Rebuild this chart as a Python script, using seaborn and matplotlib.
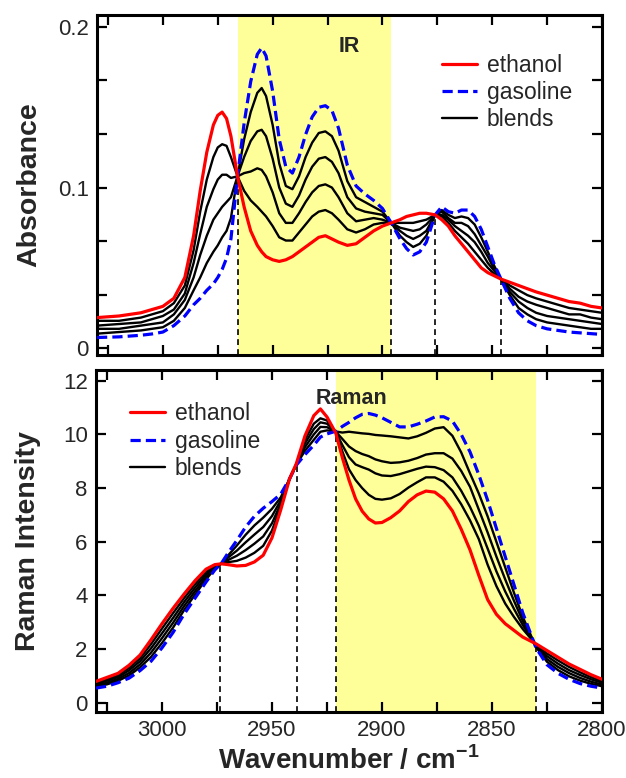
import matplotlib
matplotlib.use("Agg")
import matplotlib.pyplot as plt
import seaborn as sns
from matplotlib.ticker import FixedLocator, FixedFormatter, NullFormatter
from matplotlib.lines import Line2D

# ---------------- IR data ----------------
IR_WN = [3030, 3020, 3010, 3005, 3000, 2995, 2990, 2986, 2983, 2980, 2977, 2975, 2973, 2971, 2969,
         2966, 2963, 2960, 2957, 2955, 2953, 2950, 2947, 2944, 2941, 2938, 2935, 2932, 2929,
         2926, 2923, 2920, 2916, 2912, 2908, 2904, 2900, 2896, 2892, 2889, 2886, 2883, 2880,
         2876, 2873, 2870, 2867, 2864, 2861, 2858, 2855, 2852, 2849, 2846, 2842, 2838, 2834,
         2830, 2825, 2820, 2815, 2810, 2805, 2800]
IR_ETHANOL = [0.019, 0.020, 0.022, 0.024, 0.026, 0.031, 0.044, 0.070, 0.098, 0.122, 0.139, 0.145, 0.147,
              0.143, 0.132, 0.107, 0.088, 0.073, 0.064, 0.060, 0.057, 0.055, 0.054, 0.055, 0.057,
              0.060, 0.063, 0.066, 0.069, 0.070, 0.068, 0.066, 0.064, 0.065, 0.069, 0.073, 0.076,
              0.078, 0.080, 0.082, 0.083, 0.084, 0.084, 0.083, 0.080, 0.076, 0.070, 0.065, 0.060,
              0.055, 0.050, 0.047, 0.045, 0.043, 0.041, 0.039, 0.037, 0.035, 0.033, 0.031, 0.029,
              0.028, 0.026, 0.025]
IR_GASOLINE = [0.0066, 0.007, 0.008, 0.0088, 0.010, 0.014, 0.020, 0.027, 0.031, 0.036, 0.040, 0.044, 0.049,
               0.056, 0.068, 0.107, 0.140, 0.166, 0.183, 0.187, 0.182, 0.160, 0.130, 0.113, 0.109,
               0.119, 0.133, 0.144, 0.150, 0.151, 0.148, 0.137, 0.114, 0.101, 0.096, 0.092, 0.087,
               0.078, 0.068, 0.062, 0.058, 0.060, 0.066, 0.083, 0.088, 0.085, 0.084, 0.086, 0.086,
               0.082, 0.074, 0.063, 0.052, 0.043, 0.031, 0.022, 0.017, 0.014, 0.012, 0.011, 0.010,
               0.0095, 0.009, 0.0085]
IR_BLEND_1 = [0.009, 0.010, 0.011, 0.012, 0.013, 0.017, 0.025, 0.036, 0.044, 0.053, 0.060, 0.064, 0.069,
              0.073, 0.081, 0.107, 0.130, 0.147, 0.159, 0.162, 0.157, 0.139, 0.115, 0.101, 0.099,
              0.107, 0.119, 0.128, 0.134, 0.135, 0.132, 0.123, 0.104, 0.094, 0.091, 0.088, 0.085,
              0.078, 0.070, 0.066, 0.063, 0.065, 0.070, 0.083, 0.086, 0.083, 0.081, 0.082, 0.081,
              0.077, 0.069, 0.060, 0.051, 0.043, 0.033, 0.025, 0.021, 0.018, 0.016, 0.015, 0.014,
              0.013, 0.012, 0.012]
IR_BLEND_2 = [0.012, 0.012, 0.014, 0.015, 0.016, 0.021, 0.030, 0.044, 0.058, 0.070, 0.080, 0.084, 0.088,
              0.091, 0.094, 0.107, 0.119, 0.129, 0.135, 0.136, 0.132, 0.118, 0.100, 0.090, 0.088,
              0.095, 0.105, 0.113, 0.118, 0.119, 0.116, 0.109, 0.094, 0.087, 0.085, 0.084, 0.083,
              0.078, 0.073, 0.070, 0.068, 0.070, 0.073, 0.083, 0.085, 0.081, 0.078, 0.078, 0.076,
              0.071, 0.064, 0.057, 0.049, 0.043, 0.035, 0.029, 0.025, 0.022, 0.020, 0.019, 0.018,
              0.017, 0.016, 0.015]
IR_BLEND_3 = [0.014, 0.015, 0.016, 0.018, 0.020, 0.024, 0.034, 0.053, 0.071, 0.088, 0.099, 0.105, 0.108,
              0.108, 0.106, 0.107, 0.109, 0.110, 0.112, 0.111, 0.107, 0.097, 0.084, 0.078, 0.078,
              0.084, 0.091, 0.097, 0.101, 0.102, 0.100, 0.094, 0.084, 0.079, 0.080, 0.081, 0.080,
              0.078, 0.075, 0.074, 0.073, 0.074, 0.077, 0.083, 0.083, 0.080, 0.076, 0.073, 0.070,
              0.066, 0.060, 0.053, 0.048, 0.043, 0.037, 0.032, 0.029, 0.027, 0.025, 0.023, 0.021,
              0.021, 0.019, 0.018]
IR_BLEND_4 = [0.017, 0.017, 0.019, 0.021, 0.023, 0.028, 0.039, 0.061, 0.085, 0.105, 0.119, 0.125, 0.127,
              0.126, 0.119, 0.107, 0.098, 0.092, 0.088, 0.085, 0.082, 0.076, 0.069, 0.067, 0.067,
              0.072, 0.077, 0.082, 0.085, 0.086, 0.084, 0.080, 0.074, 0.072, 0.074, 0.077, 0.078,
              0.078, 0.078, 0.078, 0.078, 0.079, 0.080, 0.083, 0.082, 0.078, 0.073, 0.069, 0.065,
              0.060, 0.055, 0.050, 0.046, 0.043, 0.039, 0.036, 0.033, 0.031, 0.029, 0.027, 0.025,
              0.024, 0.023, 0.022]
IR_BAND = [2966, 2896]
IR_ISO_WN = [2966, 2896, 2876, 2846]
IR_ISO_VAL = [0.107, 0.078, 0.083, 0.043]

# ---------------- Raman data ----------------
RAMAN_WN = [3030, 3025, 3020, 3015, 3010, 3005, 3000, 2995, 2990, 2985, 2980, 2976, 2973, 2970,
            2966, 2962, 2958, 2954, 2950, 2946, 2942, 2939, 2935, 2931, 2928, 2925, 2921, 2918,
            2915, 2912, 2909, 2906, 2903, 2900, 2896, 2892, 2888, 2884, 2880, 2876, 2872, 2868,
            2864, 2860, 2856, 2852, 2848, 2844, 2840, 2836, 2830, 2825, 2820, 2815, 2810, 2805,
            2800]
RAMAN_ETHANOL = [0.80, 0.95, 1.10, 1.40, 1.78, 2.35, 2.95, 3.52, 4.05, 4.55, 4.98, 5.15, 5.18, 5.15,
                 5.10, 5.12, 5.25, 5.50, 6.15, 7.20, 8.35, 8.90, 9.95, 10.70, 10.95, 10.65, 10.05,
                 9.13, 8.30, 7.60, 7.14, 6.85, 6.70, 6.72, 6.90, 7.15, 7.50, 7.75, 7.89, 7.85, 7.60,
                 7.15, 6.47, 5.70, 4.75, 3.85, 3.30, 2.95, 2.70, 2.45, 2.20, 1.95, 1.70, 1.45, 1.25,
                 1.05, 0.88]
RAMAN_GASOLINE = [0.55, 0.62, 0.75, 0.92, 1.20, 1.55, 2.05, 2.62, 3.30, 3.90, 4.50, 4.95, 5.20, 5.58,
                  6.05, 6.55, 6.95, 7.25, 7.50, 7.78, 8.35, 8.85, 9.25, 9.60, 9.90, 10.02, 10.12,
                  10.30, 10.45, 10.62, 10.75, 10.78, 10.72, 10.62, 10.45, 10.28, 10.28, 10.38, 10.50,
                  10.65, 10.66, 10.50, 10.00, 9.35, 8.50, 7.55, 6.50, 5.45, 4.40, 3.35, 2.05, 1.42,
                  1.10, 0.88, 0.72, 0.62, 0.55]
RAMAN_BLEND_1 = [0.60, 0.69, 0.82, 1.02, 1.32, 1.71, 2.23, 2.80, 3.45, 4.03, 4.60, 4.99, 5.19, 5.49,
                 5.86, 6.26, 6.61, 6.90, 7.23, 7.66, 8.35, 8.87, 9.39, 9.80, 10.10, 10.15, 10.11,
                 10.07, 10.10, 10.07, 10.04, 10.02, 9.98, 9.96, 9.93, 9.89, 9.85, 9.93, 10.06, 10.22,
                 10.27, 9.95, 9.33, 8.55, 7.80, 6.95, 6.00, 5.05, 4.10, 3.20, 2.08, 1.53, 1.22, 0.99,
                 0.83, 0.71, 0.62]
RAMAN_BLEND_2 = [0.65, 0.75, 0.89, 1.11, 1.43, 1.87, 2.41, 2.98, 3.60, 4.16, 4.69, 5.03, 5.19, 5.41,
                 5.67, 5.98, 6.27, 6.55, 6.96, 7.55, 8.35, 8.87, 9.53, 10.00, 10.28, 10.27, 10.10,
                 9.83, 9.55, 9.38, 9.27, 9.19, 9.07, 9.00, 8.94, 8.96, 9.02, 9.12, 9.25, 9.30, 9.30,
                 9.10, 8.64, 8.05, 7.20, 6.35, 5.45, 4.60, 3.80, 3.05, 2.11, 1.63, 1.34, 1.11, 0.93,
                 0.79, 0.68]
RAMAN_BLEND_3 = [0.70, 0.82, 0.96, 1.21, 1.55, 2.03, 2.59, 3.16, 3.75, 4.29, 4.79, 5.07, 5.19, 5.32,
                 5.48, 5.69, 5.93, 6.20, 6.69, 7.43, 8.35, 8.87, 9.67, 10.20, 10.45, 10.40, 10.09,
                 9.60, 9.15, 8.88, 8.78, 8.69, 8.55, 8.47, 8.45, 8.52, 8.62, 8.72, 8.80, 8.78, 8.67,
                 8.40, 7.90, 7.30, 6.60, 5.75, 4.90, 4.15, 3.50, 2.90, 2.14, 1.74, 1.46, 1.22, 1.04,
                 0.88, 0.75]
RAMAN_BLEND_4 = [0.75, 0.88, 1.03, 1.30, 1.66, 2.19, 2.77, 3.34, 3.90, 4.42, 4.88, 5.11, 5.19, 5.24,
                 5.29, 5.41, 5.59, 5.85, 6.42, 7.32, 8.35, 8.87, 9.81, 10.40, 10.60, 10.52, 10.07,
                 9.36, 8.70, 8.30, 8.00, 7.75, 7.60, 7.57, 7.62, 7.78, 8.02, 8.22, 8.40, 8.40, 8.24,
                 7.90, 7.40, 6.80, 6.10, 5.15, 4.35, 3.70, 3.20, 2.75, 2.17, 1.84, 1.58, 1.34, 1.14,
                 0.96, 0.81]
RAMAN_BAND = [2921, 2830]
RAMAN_ISO_WN = [2973.5, 2938.5, 2921, 2830]
RAMAN_ISO_VAL = [5.19, 8.87, 10.1, 2.2]

# ---------------- ticks / labels ----------------
X_MAJOR = [3000, 2950, 2900, 2850, 2800]
X_MAJOR_LABELS = ["3000", "2950", "2900", "2850", "2800"]
X_MINOR = [3025, 2975, 2925, 2875, 2825]
IR_YTICKS = [0, 0.1, 0.2]
IR_YTICKLABELS = ["0", "0.1", "0.2"]
IR_YMINOR = [0.0333, 0.0667, 0.1333, 0.1667]
RAMAN_YTICKS = [0, 2, 4, 6, 8, 10, 12]
RAMAN_YTICKLABELS = ["0", "2", "4", "6", "8", "10", "12"]
LEGEND_LABELS = ["ethanol", "gasoline", "blends"]

RED = "#ff0000"
BLUE = "#0000ff"
YELLOW = "#ffff99"

sns.set_style("ticks")
plt.rcParams['font.family'] = ['Liberation Sans', 'DejaVu Sans']
plt.rcParams['mathtext.fontset'] = 'custom'
plt.rcParams['mathtext.rm'] = 'Liberation Sans'
plt.rcParams['mathtext.bf'] = 'Liberation Sans:bold'

fig = plt.figure(figsize=(6.26, 7.78), dpi=100)
ax1 = fig.add_axes([97 / 626, 1 - 355 / 778, 505 / 626, 340 / 778])
ax2 = fig.add_axes([96 / 626, 1 - 712 / 778, 506 / 626, 342 / 778])


def draw(ax, wn, eth, gas, blends, band, iso_wn, iso_val, ylim):
    ax.set_xlim(3030, 2800)
    ax.set_ylim(*ylim)
    ax.axvspan(band[0], band[1], color=YELLOW, lw=0, zorder=0)
    ax.vlines(iso_wn, ylim[0], iso_val, colors="black", linestyles=(0, (3.5, 2.5)),
              lw=1.2, zorder=1)
    for b in blends:
        sns.lineplot(x=wn, y=b, ax=ax, color="black", lw=1.7, sort=False,
                     estimator=None, zorder=3)
    sns.lineplot(x=wn, y=gas, ax=ax, color=BLUE, lw=2.3, sort=False,
                 estimator=None, zorder=4)
    ax.lines[-1].set_dashes([3.2, 1.6])
    sns.lineplot(x=wn, y=eth, ax=ax, color=RED, lw=2.3, sort=False,
                 estimator=None, zorder=5)
    for s in ax.spines.values():
        s.set_linewidth(2.2)
        s.set_color("black")
    ax.xaxis.set_major_locator(FixedLocator(X_MAJOR))
    ax.xaxis.set_minor_locator(FixedLocator(X_MINOR))
    ax.tick_params(which="both", direction="in", top=True, right=True,
                   length=7, width=1.6, color="black", labelsize=16, pad=6)
    ax.set_xlabel("")
    ax.set_ylabel("")


def add_legend(ax, anchor):
    handles = [Line2D([], [], color=RED, lw=2.3),
               Line2D([], [], color=BLUE, lw=2.3, dashes=[3.2, 1.6]),
               Line2D([], [], color="black", lw=1.7)]
    ax.legend(handles, LEGEND_LABELS, loc="upper left", bbox_to_anchor=anchor,
              frameon=False, fontsize=16.5, handlelength=1.55, handletextpad=0.4,
              labelspacing=0.18, borderpad=0, borderaxespad=0)


draw(ax1, IR_WN, IR_ETHANOL, IR_GASOLINE,
     [IR_BLEND_1, IR_BLEND_2, IR_BLEND_3, IR_BLEND_4],
     IR_BAND, IR_ISO_WN, IR_ISO_VAL, (-0.0043, 0.2075))
ax1.yaxis.set_major_locator(FixedLocator(IR_YTICKS))
ax1.yaxis.set_major_formatter(FixedFormatter(IR_YTICKLABELS))
ax1.yaxis.set_minor_locator(FixedLocator(IR_YMINOR))
ax1.xaxis.set_major_formatter(NullFormatter())
ax1.text(2915, 0.188, "IR", ha="center", va="center", fontsize=15.5, fontweight="bold")
ax1.set_ylabel("Absorbance", fontsize=20.5, fontweight="bold")
ax1.yaxis.set_label_coords(-0.108, 0.5)
add_legend(ax1, (0.683, 0.885))

draw(ax2, RAMAN_WN, RAMAN_ETHANOL, RAMAN_GASOLINE,
     [RAMAN_BLEND_1, RAMAN_BLEND_2, RAMAN_BLEND_3, RAMAN_BLEND_4],
     RAMAN_BAND, RAMAN_ISO_WN, RAMAN_ISO_VAL, (-0.34, 12.4))
ax2.yaxis.set_major_locator(FixedLocator(RAMAN_YTICKS))
ax2.yaxis.set_major_formatter(FixedFormatter(RAMAN_YTICKLABELS))
ax2.xaxis.set_major_formatter(FixedFormatter(X_MAJOR_LABELS))
ax2.text(2914, 11.35, "Raman", ha="center", va="center", fontsize=15.5, fontweight="bold")
ax2.set_ylabel("Raman Intensity", fontsize=20.5, fontweight="bold")
ax2.yaxis.set_label_coords(-0.108, 0.5)
ax2.set_xlabel(r"Wavenumber / cm$^{\mathbf{-1}}$", fontsize=20, fontweight="bold")
ax2.xaxis.set_label_coords(0.5, -0.098)
ax2.xaxis.label.set_va("top")
add_legend(ax2, (0.067, 0.905))

fig.savefig("out.png", dpi=100)
